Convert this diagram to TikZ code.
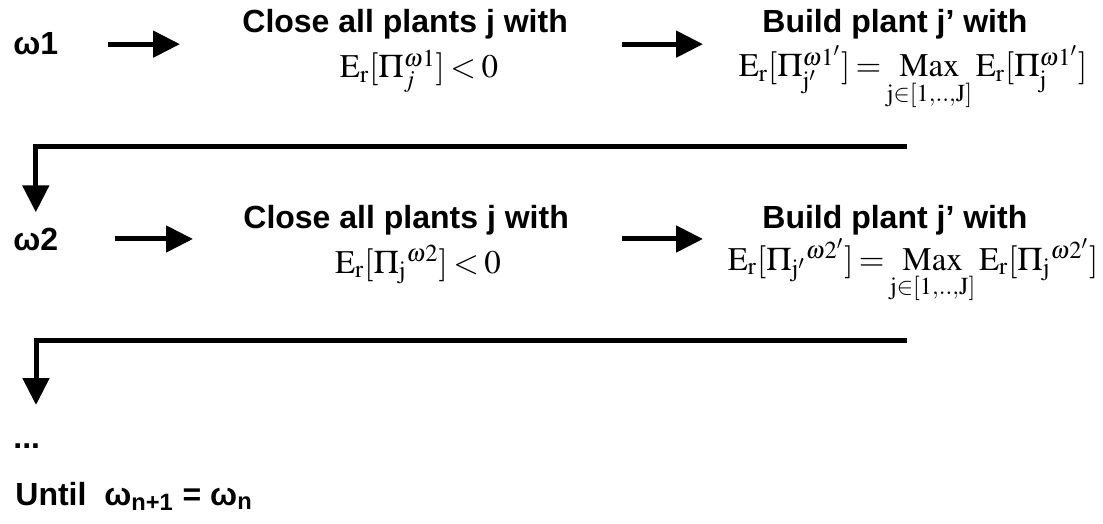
\documentclass[tikz,border=0pt]{standalone}
\usepackage{mathptmx}
\usepackage[no-math]{fontspec}
\setmainfont{Liberation Sans}
\usetikzlibrary{arrows.meta}
\newcommand{\Er}{\mathrm{E}_{\mathrm{r}}}
\newcommand{\MaxJ}{\mathop{\mathrm{Max}}\limits_{\mathrm{j}\in[1,..,\mathrm{J}]}}
\thickmuskip=3mu
\begin{document}
\begin{tikzpicture}[x=0.5pt, y=-0.5pt, font=\fontsize{16}{19}\selectfont\bfseries, line join=miter, >={Triangle[length=13.5pt,width=13pt]},
	flow/.style={line width=2.5pt, ->},
	title/.style={anchor=base west, inner sep=0pt},
	formula/.style={anchor=base, inner sep=0pt, font=\fontsize{16.5}{19}\selectfont}]
		\useasboundingbox (0,0) rectangle (1103,524);
		% first pass
		\node[title] (w1) at (13,55) {ω1};
		\node[title] (c1) at (242,33) {Close all plants j with};
		\node[formula] (f1) at (419,78) {$\Er[\Pi_{j}^{\omega1}]<0$};
		\node[title] (b1) at (762,33) {Build plant j’ with};
		\node[formula] (g1) at (913,77) {$\Er[\Pi_{\mathrm{j'}}^{\omega1'}]=\MaxJ\Er[\Pi_{\mathrm{j}}^{\omega1'}]$};
		\draw[flow, shorten <=24.5pt, shorten >=31pt] (w1.east) -- (w1.east -| c1.west);
		\draw[flow, shorten <=27pt, shorten >=29.5pt] (c1.east |- w1.east) -- (w1.east -| b1.west);
		% second pass
		\node[title] (w2) at (13,250) {ω2};
		\node[title] (c2) at (243,228) {Close all plants j with};
		\node[formula] (f2) at (418,273) {$\Er[\Pi_{\mathrm{j}}{}^{\omega2}]<0$};
		\node[title] (b2) at (762,228) {Build plant j’ with};
		\node[formula] (g2) at (913,270) {$\Er[\Pi_{\mathrm{j'}}{}^{\omega2'}]=\MaxJ\Er[\Pi_{\mathrm{j}}{}^{\omega2'}]$};
		\draw[flow, shorten <=28pt, shorten >=25pt] (w2.east) -- (w2.east -| c2.west);
		\draw[flow, shorten <=26.5pt, shorten >=29.5pt] (c2.east |- w2.east) -- (w2.east -| b2.west);
		% loop back
		\node[title] (dots) at (13,448) {...};
		\node[title] (until) at (15,505) {Until~~ω\textsubscript{n+1} = ω\textsubscript{n}};
		\coordinate (r1) at (907,147);
		\coordinate (r2) at (907,340);
		\coordinate (d2) at (36,405);
		\draw[flow, shorten >=7.5pt] (r1) -- (r1 -| w2.north) -- (w2.north);
		\draw[flow] (r2) -- (r2 -| d2) -- (d2);
	\end{tikzpicture}
\end{document}
